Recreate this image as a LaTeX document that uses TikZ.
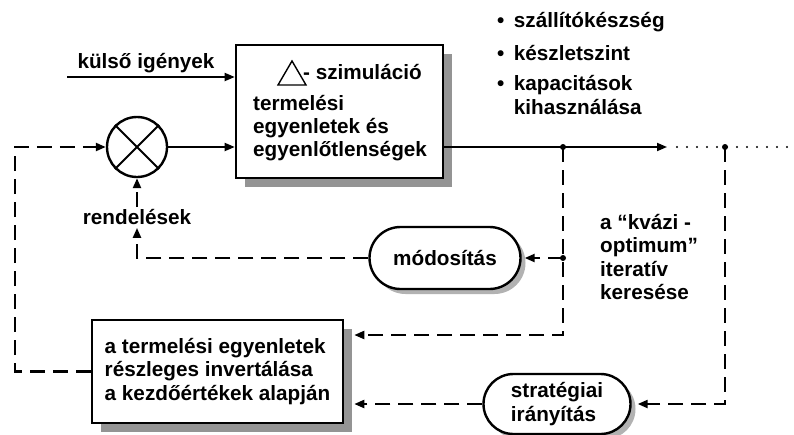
\documentclass[tikz,border=0pt]{standalone}
\usepackage{fontspec}
\setmainfont{Liberation Sans}
\usetikzlibrary{arrows.meta,shadows,shapes.misc}
\begin{document}
\begin{tikzpicture}[x=1pt,y=-1pt,
  txt/.style={font=\fontsize{20.7}{23.3}\selectfont\bfseries, inner sep=2pt},
  block/.style={draw, line width=2.6pt, fill=white,
    drop shadow={shadow xshift=9pt, shadow yshift=-9pt, fill=black!42, opacity=1}},
  pill/.style={rounded rectangle, draw, line width=2.4pt, fill=white, txt,
    drop shadow={shadow xshift=5pt, shadow yshift=-5pt, fill=black!30, opacity=1}},
  flow/.style={line width=1.8pt, -{Triangle[length=10pt,width=8pt]}},
  fb/.style={line width=2.2pt, dash pattern=on 15pt off 8pt, -{Triangle[length=10pt,width=8pt]}},
  dots/.style={line width=2.2pt, line cap=round, dash pattern=on 0pt off 10pt},
  junction/.style={circle, fill=black, inner sep=0pt, minimum size=6pt},
]
\useasboundingbox (0,0) rectangle (794,434);

% simulation block
\node[block, minimum width=207pt, minimum height=133pt, inner sep=0pt] (sim) at (339.5,111.5) {};
\draw[line width=1.4pt, line join=miter] (278,85) -- (306,85) -- (292,61) -- cycle;
\node[txt, anchor=west] (simhead) at (301,72) {- szimuláció};
\node[txt, anchor=west, align=left] (simtxt) at (251,128) {termelési\\egyenletek és\\egyenlőtlenségek};

% mixing point
\node[draw, circle, line width=2.4pt, minimum size=60pt, inner sep=0pt, fill=white] (mix) at (137,147) {};
\draw[line width=2pt] (mix.north west) -- (mix.south east) (mix.north east) -- (mix.south west);

% inversion block
\node[block, txt, align=left, minimum width=251pt, minimum height=103pt, inner xsep=12pt] (inv) at (217.5,371.5)
  {a termelési egyenletek\\részleges invertálása\\a kezdőértékek alapján};

% control blocks
\node[pill, minimum width=155pt, minimum height=62pt] (mod) at (445,258) {módosítás};
\node[pill, align=left, minimum width=151pt, minimum height=60pt] (strat) at (557,404) {stratégiai\\irányítás};

% labels
\node[txt] (ext) at (146,63) {külső igények};
\node[txt] (ord) at (137,217) {rendelések};
\node[txt, anchor=west, align=left] (kvazi) at (598,257) {a “kvázi -\\optimum”\\iteratív\\keresése};
\node[txt, anchor=west] (b1) at (495,22) {•\hspace{9.5pt}szállítókészség};
\node[txt, anchor=west] (b2) at (495,53) {•\hspace{9.5pt}készletszint};
\node[txt, anchor=west, align=left] (b3) at (495,95) {•\hspace{9.5pt}kapacitások\\\hphantom{•}\hspace{9.5pt}kihasználása};

% coordinates of the signal lines
\coordinate (extin) at (67,77);
\coordinate (j1) at (563,147);
\coordinate (j2) at (725,147);
\coordinate (j3) at (563,258);
\coordinate (outend) at (667,147);
\coordinate (edge) at (796,147);
\coordinate (c1) at (563,335);
\coordinate (c2) at (725,404);
\coordinate (fl) at (15,147);

% forward signals
\draw[flow] (extin) -- (sim.west |- extin);
\draw[flow] (mix.east) -- (sim.west |- mix.east);
\draw[flow] (sim.east |- mix.east) -- (outend);
\draw[dots] (outend) ++(10,0) -- (edge);

% feedback signals
\draw[fb, shorten >=10pt] (j1) -- (c1) -- (inv.east |- c1);
\draw[fb, shorten >=3pt] (j3) -- (mod.east);
\draw[fb, shorten >=1pt] (mod.west) -- (mix.south |- mod.west) -- (ord.south);
\draw[fb] (ord.north) -- (mix.south);
\draw[fb] (inv.west) -- (fl |- inv.west) -- (fl) -- (mix.west);
\draw[fb, shorten >=6pt] (j2) -- (c2) -- (strat.east |- c2);
\draw[fb, shorten >=10pt] (strat.west) -- (inv.east |- strat.west);

\node[junction] at (j1) {};
\node[junction] at (j2) {};
\node[junction] at (j3) {};
\end{tikzpicture}
\end{document}
